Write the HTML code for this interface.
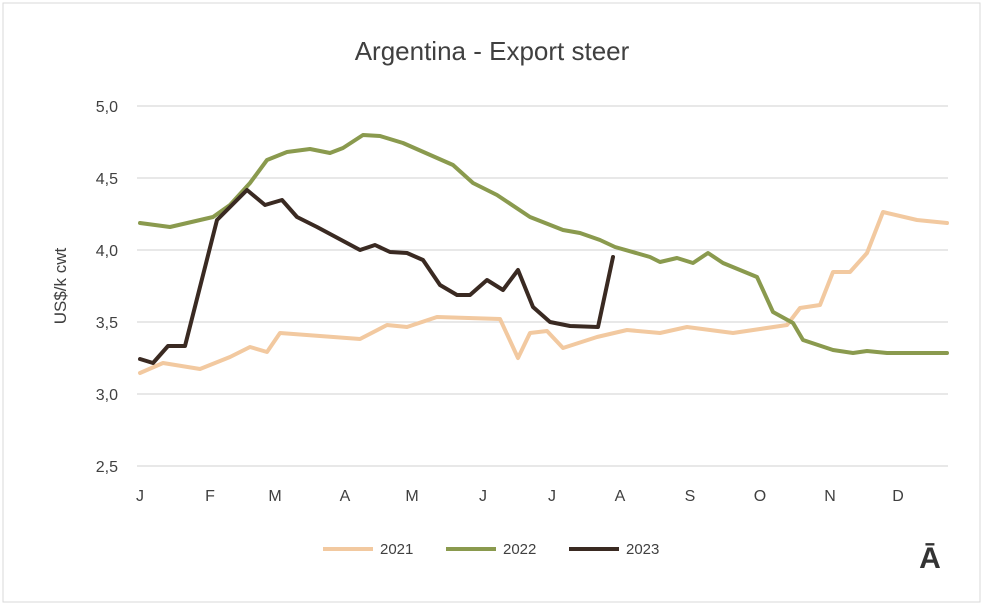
<!DOCTYPE html>
<html><head><style>
body{margin:0;background:#fff;}
svg text{font-family:"Liberation Sans",sans-serif;}
</style></head><body>
<svg width="984" height="606" viewBox="0 0 984 606">
<rect x="3" y="3" width="977" height="599" fill="#fff" stroke="#d9d9d9"/>
<text x="492" y="60" font-size="26" text-anchor="middle" fill="#404040">Argentina - Export steer</text>
<g stroke="#d9d9d9" stroke-width="1.2">
<line x1="137" y1="106" x2="948" y2="106"/><line x1="137" y1="178" x2="948" y2="178"/>
<line x1="137" y1="250" x2="948" y2="250"/><line x1="137" y1="322" x2="948" y2="322"/>
<line x1="137" y1="394" x2="948" y2="394"/><line x1="137" y1="466" x2="948" y2="466"/>
</g>
<g font-size="16" fill="#404040" text-anchor="end">
<text x="118" y="112">5,0</text><text x="118" y="184">4,5</text><text x="118" y="256">4,0</text>
<text x="118" y="328">3,5</text><text x="118" y="400">3,0</text><text x="118" y="472">2,5</text>
</g>
<text transform="translate(66,286) rotate(-90)" font-size="17" fill="#404040" text-anchor="middle">US$/k cwt</text>
<g font-size="16" fill="#404040" text-anchor="middle">
<text x="140" y="501">J</text><text x="210" y="501">F</text><text x="275" y="501">M</text>
<text x="345" y="501">A</text><text x="412" y="501">M</text><text x="483" y="501">J</text>
<text x="552" y="501">J</text><text x="620" y="501">A</text><text x="690" y="501">S</text>
<text x="760" y="501">O</text><text x="830" y="501">N</text><text x="898" y="501">D</text>
</g>
<g fill="none" stroke-width="4" stroke-linejoin="round" stroke-linecap="round">
<polyline stroke="#f2c9a0" points="140,373 163,363 200,369 230,357 250,347 267,352 280,333 360,339 387,325 407,327 437,317 500,319 518,358 530,333 547,331 563,348 597,337 627,330 660,333 687,327 733,333 787,325 800,308 820,305 833,272 850,272 867,253 883,212 917,220 947,223"/>
<polyline stroke="#8a9a4e" points="140,223 170,227 213,217 230,205 250,183 267,160 287,152 310,149 330,153 343,148 363,135 380,136 403,143 453,165 473,183 497,195 530,217 563,230 580,233 600,240 615,247 650,257 660,262 677,258 693,263 708,253 723,263 757,277 773,312 793,323 803,340 833,350 853,353 867,351 887,353 947,353"/>
<polyline stroke="#3a2a22" points="140,359 153,363 168,346 185,346 217,220 247,190 265,205 282,200 297,217 317,227 360,250 375,245 390,252 407,253 423,260 440,285 457,295 470,295 487,280 503,290 518,270 533,307 550,322 570,326 598,327 613,257"/>
</g>
<g font-size="15" fill="#404040">
<line x1="323" y1="549" x2="373" y2="549" stroke="#f2c9a0" stroke-width="4"/><text x="380" y="554">2021</text>
<line x1="446" y1="549" x2="496" y2="549" stroke="#8a9a4e" stroke-width="4"/><text x="503" y="554">2022</text>
<line x1="569" y1="549" x2="619" y2="549" stroke="#3a2a22" stroke-width="4"/><text x="626" y="554">2023</text>
</g>
<text x="930" y="568" font-size="30" font-weight="bold" fill="#333" text-anchor="middle">Ā</text>
</svg>
</body></html>
